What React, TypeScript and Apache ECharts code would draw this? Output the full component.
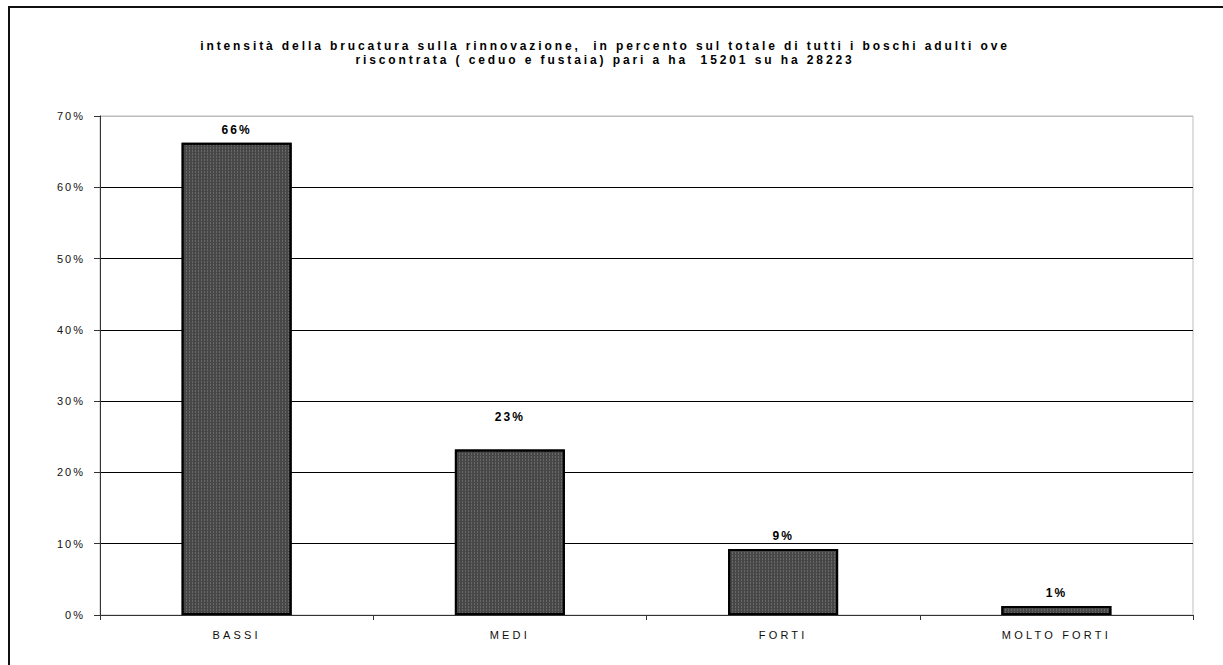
import React, { useEffect, useRef } from "react";
import * as echarts from "echarts";

const categories = ["BASSI", "MEDI", "FORTI", "MOLTO FORTI"];
const values = [66.26, 23.22, 9.25, 1.27];
const labelDistances = [7, 26, 7, 7];
const titleLines = [
  "intensità della brucatura sulla rinnovazione,  in percento sul totale di tutti i boschi adulti ove",
  "riscontrata ( ceduo e fustaia) pari a ha  15201 su ha 28223",
];
const yTicks = { min: 0, max: 70, interval: 10 };

const FONT = "'Liberation Sans', Arial, sans-serif";
const TITLE_FILL = "#010101";
const XLABEL_FILL = "#0f0f0f";

export default function App() {
  const ref = useRef<HTMLDivElement>(null);
  useEffect(() => {
    if (!ref.current) return;
    const chart = echarts.init(ref.current, undefined, { renderer: "svg" });
    const splitColors = ["#000", "#000", "#000", "#000", "#000", "#000", "#000", "#bdbdbd"];
    chart.setOption({
      animation: false,
      backgroundColor: "#fff",
      textStyle: { fontFamily: FONT },
      title: {
        text: titleLines.join("\n"),
        left: 600,
        top: 34,
        textAlign: "center",
        textStyle: {
          fontFamily: FONT,
          fontSize: 12,
          fontWeight: "bold",
          color: TITLE_FILL,
          lineHeight: 14,
        },
      },
      graphic: [
        {
          type: "rect",
          silent: true,
          z: 100,
          shape: { x: 9, y: 7, width: 1400, height: 800 },
          style: { fill: "none", stroke: "#111", lineWidth: 2 },
        },
      ],
      grid: {
        left: 100,
        right: 30,
        top: 116,
        bottom: 50,
        show: true,
        borderColor: "#bdbdbd",
        borderWidth: 1,
        backgroundColor: "transparent",
      },
      xAxis: {
        type: "category",
        data: categories,
        boundaryGap: true,
        axisLine: { show: true, lineStyle: { color: "#333", width: 1 } },
        axisTick: { show: true, alignWithLabel: false, length: 5, lineStyle: { color: "#333" } },
        axisLabel: { fontFamily: FONT, fontSize: 11, color: XLABEL_FILL, margin: 14 },
        splitLine: { show: false },
      },
      yAxis: {
        type: "value",
        min: yTicks.min,
        max: yTicks.max,
        interval: yTicks.interval,
        axisLine: { show: true, lineStyle: { color: "#333", width: 1 } },
        axisTick: { show: true, length: 6, lineStyle: { color: "#333" } },
        axisLabel: {
          fontFamily: FONT,
          fontSize: 11,
          color: "#111",
          margin: 15,
          formatter: "{value}%",
        },
        splitLine: { show: true, lineStyle: { color: splitColors, width: 1 } },
      },
      series: [
        {
          type: "bar",
          barWidth: 110,
          data: values.map((v, i) => ({
            value: v,
            label: { distance: labelDistances[i] },
          })),
          itemStyle: {
            color: "#474747",
            borderColor: "#000",
            borderWidth: 2,
            decal: {
              symbol: "rect",
              symbolSize: 1,
              color: "rgba(255,255,255,0.18)",
              dashArrayX: [1, 2],
              dashArrayY: [2, 1],
              rotation: 0,
            },
          },
          label: {
            show: true,
            position: "top",
            fontFamily: FONT,
            fontSize: 12,
            fontWeight: "bold",
            color: "#000",
            formatter: (p: any) => Math.round(p.value) + "%",
          },
        },
      ],
    });
    return () => chart.dispose();
  }, []);
  return (
    <>
      <style>{`
        .chart-root text[fill="${TITLE_FILL}"] { letter-spacing: 2.9px; }
        .chart-root text[fill="${XLABEL_FILL}"] { letter-spacing: 3.2px; }
      `}</style>
      <div
        ref={ref}
        className="chart-root"
        style={{
          position: "absolute",
          left: 0,
          top: 0,
          width: 1223,
          height: 665,
          letterSpacing: "2px",
        }}
      />
    </>
  );
}
